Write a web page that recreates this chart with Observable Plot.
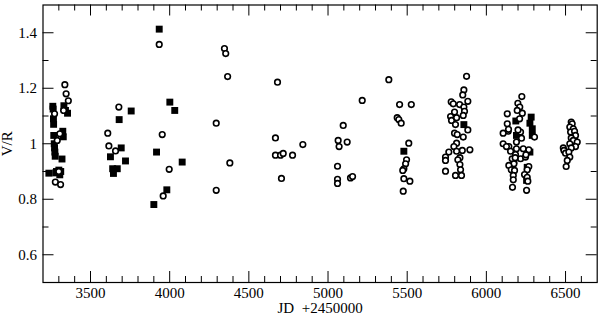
<!DOCTYPE html>
<html><head><meta charset="utf-8">
<script src="https://cdn.jsdelivr.net/npm/d3@7"></script>
<script src="https://cdn.jsdelivr.net/npm/@observablehq/plot@0.6"></script>
<style>html,body{margin:0;padding:0;background:#fff}#chart svg{display:block}</style>
</head><body><div id="chart"></div><script>
// Open circles: JD - 2450000 and V/R
const circleJD = [
  3273,3278,3290,3300,3306,3311,3330,3338,3346,3360,
  3609,3616,3658,3679,
  3934,3953,3959,3997,
  4294,4294,4346,4354,4366,4380,
  4681,4668,4668,4700,4717,4776,4841,4706,
  5096,5064,5070,5121,5060,5060,5060,5142,5155,5216,
  5384,5452,5526,5437,5447,5462,5510,5496,5490,5479,5472,5479,5517,5475,
  5875,5858,5851,5778,5791,5831,5883,5858,5799,5862,5774,5780,5854,5812,5805,5883,
  5799,5816,5854,5812,5795,5848,5896,5812,5763,5742,5833,5742,5820,5833,5742,5837,5805,5843,
  6224,6199,6211,6195,6227,6132,6132,6138,6106,6216,6304,6190,6106,6142,6153,6190,6233,6268,
  6184,6163,6216,6247,6174,6142,6268,6157,6258,6178,6170,6241,6258,6170,6262,6165,6254,
  6210,6200,6222,6182,6250,6140,6127,
  6486,6490,6500,6536,6542,6527,6549,6532,6557,6563,6536,6549,6574,6527,6563,6536,6521,6527,6511,6504
];
const circleVR = [
  1.108,0.862,1.012,0.900,1.036,0.853,1.120,1.213,1.180,1.155,
  1.038,0.992,0.974,1.132,
  1.358,1.033,0.812,0.908,
  1.074,0.832,1.343,1.325,1.242,0.931,
  1.222,1.021,0.959,0.959,0.965,0.959,0.997,0.875,
  1.066,1.012,0.990,1.006,0.919,0.872,0.857,0.877,0.882,1.156,
  1.231,1.141,1.141,1.094,1.087,1.074,1.002,0.942,0.928,0.910,0.904,0.874,0.865,0.829,
  1.243,1.194,1.176,1.151,1.144,1.141,1.153,1.132,1.114,1.117,1.098,1.084,1.102,1.094,1.069,1.050,
  1.038,1.033,1.024,1.002,0.990,0.976,0.978,0.973,0.970,0.952,0.950,0.940,0.942,0.925,0.901,0.906,0.886,0.886,
  1.170,1.146,1.132,1.120,1.110,1.108,1.072,1.045,1.038,1.042,1.024,1.006,1.000,0.990,0.973,0.982,0.982,0.978,
  0.961,0.946,0.946,0.952,0.928,0.922,0.918,0.906,0.906,0.904,0.886,0.889,0.879,0.870,0.865,0.843,0.832,
  1.090,1.050,1.020,0.950,0.960,1.052,0.990,
  0.985,0.976,0.966,1.078,1.072,1.060,1.054,1.042,1.045,1.030,1.021,1.012,1.006,1.000,0.990,0.985,0.970,0.952,0.940,0.918
];
// Filled squares
const squareJD = [
  3237,3262,3264,3266,3267,3268,3271,3273,3275,3277,3285,3300,3306,3312,3320,3325,3328,3332,3342,3355,3280,
  3626,3640,3645,3669,3681,3694,3721,3757,
  3900,3917,3934,3982,4001,4032,4079,
  5479,5858,
  6186,6190,6283,6275,6290,6290,6275,6258,6174,6254,
  6547,6557
];
const squareVR = [
  0.894,1.135,1.125,1.090,1.070,1.030,1.000,0.985,0.970,0.955,0.900,0.905,0.888,0.900,0.945,1.045,1.025,1.137,1.120,1.110,0.895,
  0.953,0.910,0.893,0.910,1.087,0.985,0.938,1.118,
  0.781,0.970,1.413,0.834,1.150,1.120,0.934,
  0.973,1.069,
  1.082,1.030,1.096,1.074,1.054,1.030,0.970,0.915,0.940,0.868,
  1.030,1.010
];
const xTicks = [3500,4000,4500,5000,5500,6000,6500];
const xTickLabels = ["3500","4000","4500","5000","5500","6000","6500"];
const xMinorTicks = [3300,3400,3600,3700,3800,3900,4100,4200,4300,4400,4600,4700,4800,4900,5100,5200,5300,5400,5600,5700,5800,5900,6100,6200,6300,6400,6600];
const yTicks = [0.6,0.8,1,1.2,1.4];
const yTickLabels = ["0.6","0.8","1","1.2","1.4"];
const yMinorTicks = [0.7,0.9,1.1,1.3];
const xTitle = "JD\u2002+2450000";
const yTitle = "V/R";

const W = 600, H = 316, mL = 42.5, mR = 3.3, mT = 4.5, mB = 34;
const iw = W - mL - mR, ih = H - mT - mB;
const major = 11, minor = 6;
const font = "'Liberation Serif','Times New Roman',Times,serif";

const circles = circleJD.map((x, i) => ({x, y: circleVR[i]}));
const squares = squareJD.map((x, i) => ({x, y: squareVR[i]}));

const chart = Plot.plot({
  width: W, height: H,
  marginLeft: mL, marginRight: mR, marginTop: mT, marginBottom: mB,
  style: {fontFamily: font, fontSize: "15px", color: "#000", background: "#fff", overflow: "visible"},
  x: {domain: [3200, 6700]},
  y: {domain: [0.5, 1.5]},
  marks: [
    Plot.ruleX(xTicks, {insetTop: ih - major, stroke: "#000", strokeWidth: 1}),
    Plot.ruleX(xTicks, {insetBottom: ih - major, stroke: "#000", strokeWidth: 1}),
    Plot.ruleX(xMinorTicks, {insetTop: ih - minor, stroke: "#000", strokeWidth: 1}),
    Plot.ruleX(xMinorTicks, {insetBottom: ih - minor, stroke: "#000", strokeWidth: 1}),
    Plot.ruleY(yTicks, {insetRight: iw - major, stroke: "#000", strokeWidth: 1}),
    Plot.ruleY(yTicks, {insetLeft: iw - major, stroke: "#000", strokeWidth: 1}),
    Plot.ruleY(yMinorTicks, {insetRight: iw - minor, stroke: "#000", strokeWidth: 1}),
    Plot.ruleY(yMinorTicks, {insetLeft: iw - minor, stroke: "#000", strokeWidth: 1}),
    Plot.axisX(xTicks, {tickSize: 0, tickPadding: 5, tickFormat: d => xTickLabels[xTicks.indexOf(d)], label: null, fontSize: 15}),
    Plot.axisY(yTicks, {tickSize: 0, tickPadding: 6, tickFormat: d => yTickLabels[yTicks.indexOf(d)], label: null, fontSize: 15}),
    Plot.dot(squares, {x: "x", y: "y", symbol: "square", r: 3.9, fill: "#000", stroke: "none"}),
    Plot.dot(circles, {x: "x", y: "y", r: 2.8, fill: "#fff", stroke: "#000", strokeWidth: 1.6}),
    Plot.frame({stroke: "#000", strokeWidth: 1.2}),
    Plot.text([yTitle], {frameAnchor: "left", dx: -35.5, rotate: -90, textAnchor: "middle", lineAnchor: "middle", fontSize: 15, fill: "#000"}),
    Plot.text([xTitle], {frameAnchor: "bottom", dy: 26, textAnchor: "middle", lineAnchor: "middle", fontSize: 15, fill: "#000"})
  ]
});
document.getElementById("chart").appendChild(chart);
</script></body></html>
